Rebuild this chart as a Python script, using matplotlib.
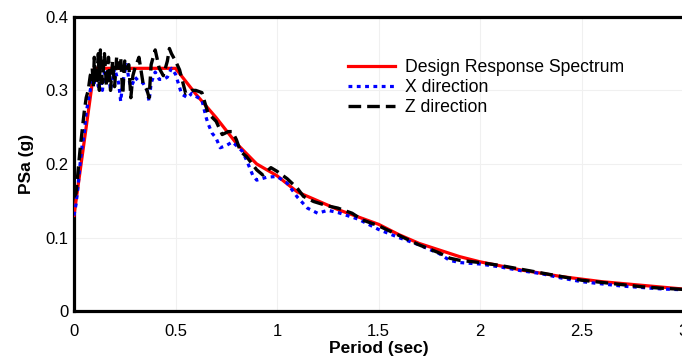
import numpy as np
import matplotlib
matplotlib.use("Agg")
import matplotlib.pyplot as plt

plt.rcParams['font.family'] = ['Liberation Sans', 'DejaVu Sans']

# Design response spectrum
t_design = [0.0, 0.1, 0.5, 0.6, 0.7, 0.8, 0.9, 1.0, 1.1, 1.2, 1.3, 1.4, 1.5,
            1.6, 1.7, 1.8, 1.9, 2.0, 2.2, 2.4, 2.6, 2.8, 3.0]
sa_design = [0.13, 0.33, 0.33, 0.295, 0.263, 0.228, 0.20, 0.184, 0.162, 0.15,
             0.138, 0.128, 0.118, 0.104, 0.092, 0.083, 0.074, 0.067, 0.056,
             0.047, 0.04, 0.035, 0.030]

# X direction record
t_x = [0.0, 0.01, 0.02, 0.03, 0.04, 0.05, 0.06, 0.07, 0.08, 0.09, 0.10, 0.11,
       0.12, 0.13, 0.14, 0.15, 0.16, 0.17, 0.18, 0.19, 0.20, 0.21, 0.22, 0.23,
       0.24, 0.25, 0.26, 0.27, 0.28, 0.29, 0.30, 0.32, 0.34, 0.36, 0.37, 0.38,
       0.40, 0.42, 0.44, 0.46, 0.48, 0.50, 0.53, 0.56, 0.58, 0.60, 0.63, 0.65,
       0.66, 0.68, 0.70, 0.72, 0.75, 0.78, 0.80, 0.83, 0.85, 0.88, 0.90, 0.95,
       1.0, 1.05, 1.1, 1.15, 1.2, 1.25, 1.3, 1.4, 1.5, 1.6, 1.7, 1.8, 1.85,
       1.9, 2.0, 2.1, 2.2, 2.3, 2.4, 2.5, 2.6, 2.7, 2.8, 2.9, 3.0]
sa_x = [0.13, 0.145, 0.17, 0.20, 0.225, 0.24, 0.27, 0.285, 0.30, 0.315, 0.31,
        0.32, 0.305, 0.318, 0.30, 0.325, 0.31, 0.322, 0.30, 0.315, 0.33, 0.32,
        0.31, 0.285, 0.31, 0.325, 0.335, 0.315, 0.305, 0.31, 0.318, 0.312,
        0.31, 0.30, 0.285, 0.31, 0.325, 0.315, 0.315, 0.318, 0.33, 0.322,
        0.295, 0.29, 0.296, 0.292, 0.287, 0.264, 0.255, 0.242, 0.235, 0.222,
        0.225, 0.23, 0.225, 0.217, 0.205, 0.185, 0.178, 0.182, 0.183, 0.174,
        0.155, 0.14, 0.133, 0.137, 0.134, 0.125, 0.111, 0.10, 0.09, 0.078,
        0.069, 0.066, 0.064, 0.06, 0.055, 0.051, 0.045, 0.04, 0.037, 0.034,
        0.032, 0.03, 0.029]

# Z direction record
t_z = [0.0, 0.01, 0.02, 0.03, 0.04, 0.05, 0.06, 0.07, 0.08, 0.09, 0.095, 0.10,
       0.11, 0.12, 0.125, 0.13, 0.14, 0.15, 0.16, 0.17, 0.18, 0.19, 0.20, 0.21,
       0.22, 0.23, 0.24, 0.25, 0.26, 0.27, 0.28, 0.29, 0.30, 0.32, 0.34, 0.36,
       0.37, 0.38, 0.40, 0.42, 0.44, 0.46, 0.47, 0.48, 0.50, 0.52, 0.55, 0.58,
       0.60, 0.63, 0.645, 0.66, 0.70, 0.73, 0.76, 0.78, 0.80, 0.82, 0.85, 0.90,
       0.93, 0.97, 1.0, 1.05, 1.1, 1.13, 1.18, 1.25, 1.3, 1.37, 1.42, 1.5, 1.6,
       1.7, 1.8, 1.85, 1.9, 2.0, 2.1, 2.2, 2.3, 2.4, 2.5, 2.6, 2.7, 2.8, 2.9,
       3.0]
sa_z = [0.155, 0.16, 0.19, 0.22, 0.245, 0.27, 0.29, 0.30, 0.32, 0.33, 0.305,
        0.345, 0.31, 0.35, 0.30, 0.355, 0.31, 0.35, 0.305, 0.345, 0.30, 0.34,
        0.305, 0.345, 0.33, 0.345, 0.295, 0.34, 0.33, 0.335, 0.29, 0.32, 0.33,
        0.345, 0.31, 0.30, 0.29, 0.335, 0.355, 0.33, 0.32, 0.34, 0.357, 0.35,
        0.34, 0.328, 0.296, 0.30, 0.30, 0.297, 0.283, 0.269, 0.258, 0.24,
        0.244, 0.244, 0.233, 0.217, 0.21, 0.192, 0.185, 0.195, 0.19, 0.18,
        0.167, 0.156, 0.149, 0.143, 0.14, 0.133, 0.124, 0.116, 0.103, 0.09,
        0.079, 0.072, 0.069, 0.066, 0.062, 0.057, 0.052, 0.047, 0.042, 0.039,
        0.036, 0.033, 0.031, 0.0295]

fig = plt.figure(figsize=(6.82, 3.58), dpi=100)
ax = fig.add_axes([0.1085, 0.131, 0.893, 0.822])

ax.plot(t_design, sa_design, color='#ff0000', lw=2.3, label='Design Response Spectrum', zorder=3)
ax.plot(t_x, sa_x, color='#0000ff', lw=2.3, linestyle=(0, (1.2, 1.4)), label='X direction', zorder=4)
ax.plot(t_z, sa_z, color='black', lw=2.4, linestyle=(0, (3.8, 1.8)), label='Z direction', zorder=5)

ax.set_xlim(0, 3)
ax.set_ylim(0, 0.4)
ax.set_xticks([0, 0.5, 1, 1.5, 2, 2.5, 3])
ax.set_xticklabels(['0', '0.5', '1', '1.5', '2', '2.5', '3'])
ax.set_yticks([0, 0.1, 0.2, 0.3, 0.4])
ax.set_yticklabels(['0', '0.1', '0.2', '0.3', '0.4'])
ax.tick_params(length=0, labelsize=12)
ax.tick_params(axis='x', pad=9)
ax.tick_params(axis='y', pad=4)
ax.grid(True, color='#f0f0f0', lw=0.8)
ax.set_axisbelow(True)
for s in ax.spines.values():
    s.set_linewidth(2.3)

ax.set_xlabel('Period (sec)', fontsize=12.5, fontweight='bold', labelpad=2)
ax.set_ylabel('PSa (g)', fontsize=12.5, fontweight='bold', labelpad=8)

ax.legend(loc='upper left', bbox_to_anchor=(0.45, 0.855), frameon=False,
          fontsize=12.7, handlelength=2.67, handletextpad=0.57, labelspacing=0.15,
          borderaxespad=0, borderpad=0)

fig.savefig('out.png', dpi=100)
